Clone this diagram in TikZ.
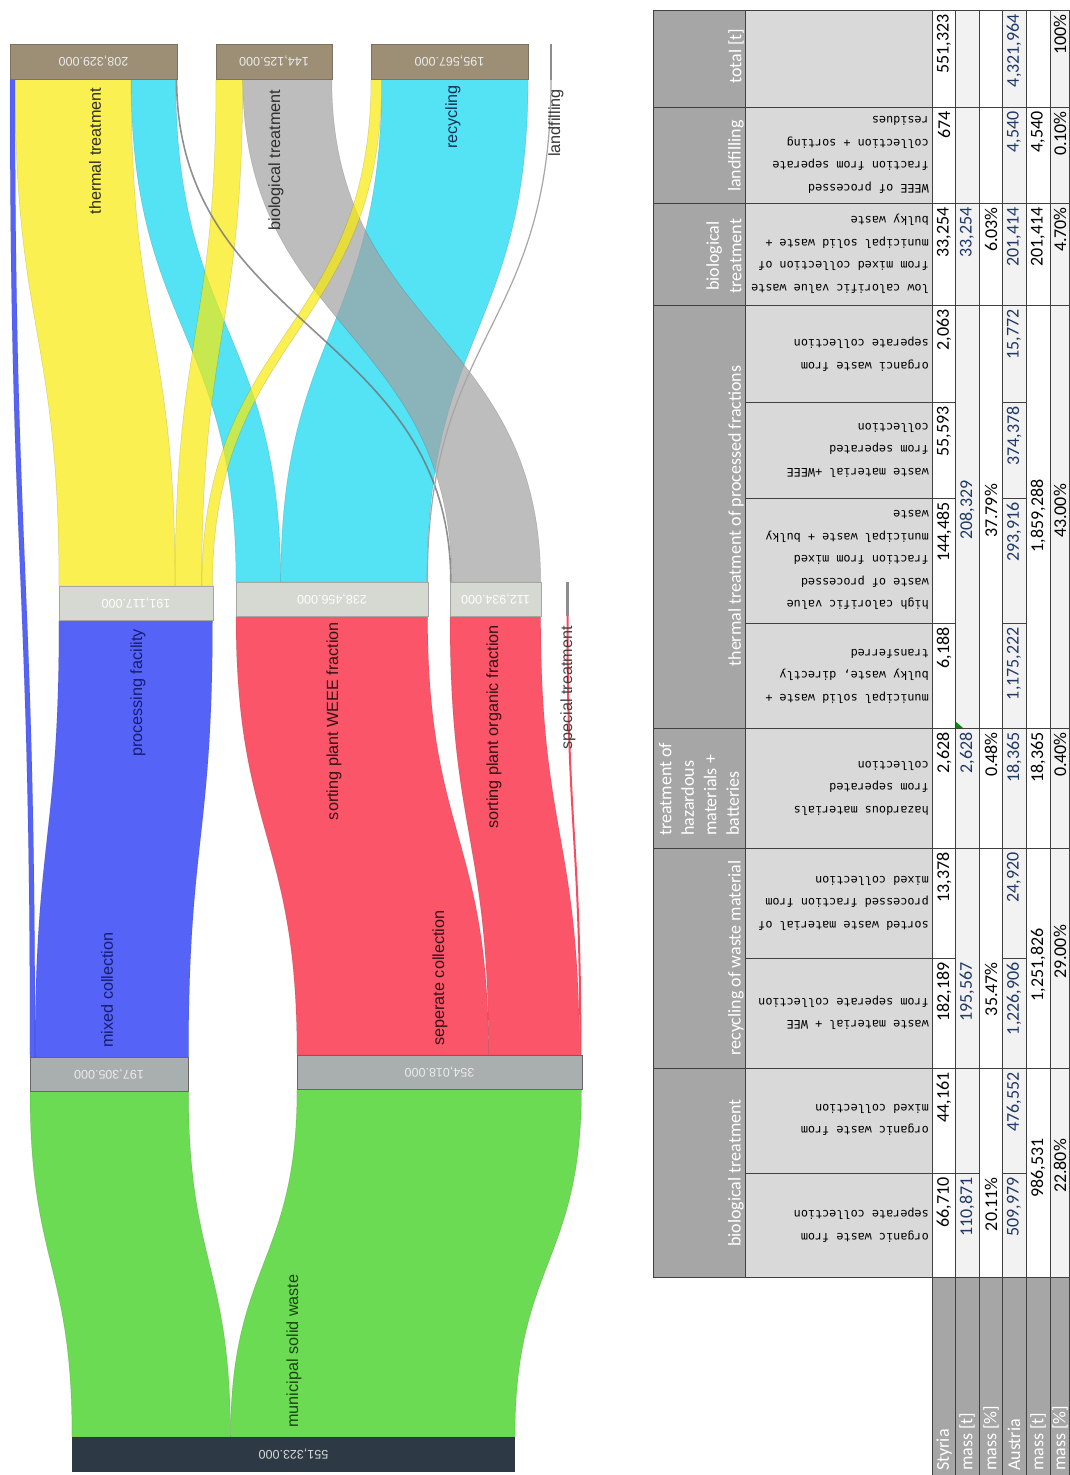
\documentclass[tikz,border=0pt]{standalone}
\usepackage{fontspec}
\setmainfont{Liberation Sans}
\newfontfamily\xlfont{Carlito}
\newfontfamily\cellmono{DejaVu Sans Mono}
\definecolor{cgreen}{RGB}{45,204,11}
\definecolor{cblue}{RGB}{15,34,244}
\definecolor{cred}{RGB}{248,14,42}
\definecolor{cyel}{RGB}{248,235,8}
\definecolor{ccyan}{RGB}{12,215,241}
\definecolor{cgray}{RGB}{161,161,161}
\definecolor{ctan}{RGB}{157,143,118}
\definecolor{cmid}{RGB}{213,217,209}
\definecolor{cbot}{RGB}{169,174,175}
\definecolor{croot}{RGB}{45,58,69}
\definecolor{hdrgray}{RGB}{166,166,166}
\definecolor{subgray}{RGB}{217,217,217}
\definecolor{altgray}{RGB}{242,242,242}
\definecolor{numblue}{RGB}{31,56,100}
\newcommand\sflow[7]{%
  \pgfmathsetmacro\flowym{(#4+#7)/2}%
  \filldraw[flowband,#1] (#2,#4) .. controls (#2,\flowym) and (#5,\flowym) .. (#5,#7) -- (#6,#7) .. controls (#6,\flowym) and (#3,\flowym) .. (#3,#4) -- cycle;}
\newcommand\sline[5]{%
  \pgfmathsetmacro\flowym{(#3+#5)/2}%
  \draw[#1] (#2,#3) .. controls (#2,\flowym) and (#4,\flowym) .. (#4,#5);}
\newcommand\dv[4][]{\node[dval,#1] (d#2x#3) at (#2,#3) {#4};}
\begin{document}
\begin{tikzpicture}[x=1pt,y=-1pt,
  flowband/.style={fill opacity=0.7, draw=black, draw opacity=0.15, line width=0.5},
  topbox/.style={fill=ctan, draw=ctan!80!black, line width=0.6, rotate=180, inner sep=0, minimum height=35, text=white!92!black, font=\fontsize{12.5}{14}\selectfont},
  midbox/.style={fill=cmid, draw=black!35, line width=0.6, rotate=180, inner sep=0, minimum height=34, text=white, font=\fontsize{12.5}{14}\selectfont},
  botbox/.style={fill=cbot, draw=black!60, line width=0.8, rotate=180, inner sep=0, minimum height=34, text=white!92!black, font=\fontsize{12.5}{14}\selectfont},
  rootbox/.style={fill=croot, rotate=180, inner sep=0, minimum height=35, text=white!85!black, font=\fontsize{12.5}{14}\selectfont},
  thinbox/.style={fill=black!45, inner sep=0},
  slabel/.style={rotate=90, inner sep=0, font=\fontsize{16.2}{19}\selectfont},
  dval/.style={rotate=90, anchor=east, inner sep=0, font=\xlfont\fontsize{18}{20}\selectfont},
  dvb/.style={text=numblue},
  shdr/.style={rotate=180, anchor=west, align=left, inner sep=0, font=\cellmono\fontsize{11.8}{22.5}\selectfont},
  chdr/.style={rotate=90, text=white, inner sep=0, font=\xlfont\fontsize{18}{22.5}\selectfont},
  rlab/.style={rotate=90, anchor=west, text=white, inner sep=0, font=\xlfont\fontsize{18}{20}\selectfont},
  tline/.style={draw=black!75, line width=0.8}
]
\useasboundingbox (0,0) rectangle (1070,1475);
\fill[white] (0,0) rectangle (1070,1475);

% ---------------- Sankey flows ----------------
\sflow{fill=cgreen}{72}{230.5}{1437}{30}{188.5}{1091}
\sflow{fill=cgreen}{230.5}{515}{1437}{297}{581.5}{1089}
\sflow{fill=cblue}{30}{35}{1057}{10}{15}{79}
\sflow{fill=cblue}{35}{188.5}{1057}{59}{212.5}{620}
\sflow{fill=cred}{297}{488.6}{1055}{236}{427.6}{616}
\sflow{fill=cred}{488.6}{579.4}{1055}{450}{540.7}{616}
\sflow{fill=ccyan}{280.7}{427.1}{582}{381.75}{528.1}{79}
\sflow{fill=cyel}{59}{175.1}{586}{15}{131.1}{79}
\sflow{fill=ccyan}{236}{280.7}{582}{131.1}{175.8}{79}
\sflow{fill=cgray}{451.7}{540.7}{582}{242.7}{331.8}{79}
\sflow{fill=cyel}{175.1}{201.8}{586}{216}{242.7}{79}
\sflow{fill=cyel}{201.8}{212.5}{586}{371}{381.75}{79}
\sline{draw=black!55, line width=1.6, draw opacity=0.8}{450.8}{582}{176.6}{79}
\sline{draw=black!35, line width=1.2}{427.3}{582}{551}{80}
\sline{draw=cred, line width=2, draw opacity=0.75}{580.4}{1055}{567.5}{616}

% ---------------- Sankey nodes ----------------
\node[topbox, minimum width=167] (thermal) at (93.5,61.5) {208,329.000};
\node[topbox, minimum width=116] (bio) at (274,61.5) {144,125.000};
\node[topbox, minimum width=157] (recyc) at (449.5,61.5) {195,567.000};
\node[thinbox, minimum width=1.6, minimum height=36] (landf) at (551,62) {};
\node[midbox, minimum width=154] (proc) at (136,603) {191,117.000};
\node[midbox, minimum width=192] (weee) at (332,599) {238,456.000};
\node[midbox, minimum width=91] (org) at (495.5,599) {112,934.000};
\node[thinbox, minimum width=2.5, minimum height=34] (spec) at (567.5,599) {};
\node[botbox, minimum width=158] (mixed) at (109,1074) {197,305.000};
\node[botbox, minimum width=285] (sep) at (439.5,1072) {354,018.000};
\node[rootbox, minimum width=443] (root) at (293.5,1454.5) {551,323.000};

% ---------------- Sankey labels ----------------
\node[slabel, text={rgb,255:red,45;green,45;blue,32}] (lthermal) at (95,151) {thermal treatment};
\node[slabel, text=black!82] (lbio) at (276,160) {biological treatment};
\node[slabel, text={rgb,255:red,16;green,48;blue,82}] (lrecyc) at (453,117) {recycling};
\node[slabel, text=black!78] (llandf) at (556,123) {landfilling};
\node[slabel, text={rgb,255:red,22;green,28;blue,112}] (lproc) at (138,693) {processing facility};
\node[slabel, text={rgb,255:red,52;green,16;blue,20}] (lweee) at (334,721) {sorting plant WEEE fraction};
\node[slabel, text={rgb,255:red,52;green,16;blue,20}] (lorg) at (494,727) {sorting plant organic fraction};
\node[slabel, text=black!75] (lspec) at (568,688) {special treatment};
\node[slabel, text={rgb,255:red,22;green,28;blue,112}] (lmixed) at (107,990) {mixed collection};
\node[slabel, text={rgb,255:red,52;green,16;blue,20}] (lsep) at (440,978) {seperate collection};
\node[slabel, text={rgb,255:red,26;green,68;blue,18}] (lmsw) at (294,1351) {municipal solid waste};

% ---------------- Table backgrounds ----------------
\fill[hdrgray] (653,10) rectangle (745,1277);
\fill[subgray] (745,10) rectangle (932,1277);
\fill[altgray] (955,10) rectangle (979,1277);
\fill[altgray] (1002,10) rectangle (1026,1277);
\fill[altgray] (1050,10) rectangle (1070,1277);
\fill[hdrgray] (932,1277) rectangle (1070,1475);
\fill[green!55!black] (955,721) -- (955,728) -- (963,728) -- cycle;

% ---------------- Table lines ----------------
\foreach \yy in {10,107,203,305,728,848,1068,1277}
  \draw[tline] (653,\yy) -- (1069.5,\yy);
\foreach \yy in {402,498,623,958,1173}
  \draw[tline] (745,\yy) -- (955,\yy) (1002,\yy) -- (1026,\yy);
\draw[tline] (955,1173) -- (979,1173);
\draw[tline] (653,10) -- (653,1277) (745,10) -- (745,1277);
\foreach \xx in {932,955,979,1002,1026,1050,1069.5}
  \draw[tline] (\xx,10) -- (\xx,1475);

% ---------------- Category headers ----------------
\node[chdr] (h1) at (736,56) {total [t]};
\node[chdr] (h2) at (736,156) {landfilling};
\node[chdr, align=center] (h3) at (724,256) {biological\\treatment};
\node[chdr] (h4) at (736,516) {thermal treatment of processed fractions};
\node[chdr, align=left, anchor=west] (h5) at (699,836) {treatment of\\hazardous\\materials +\\batteries};
\node[chdr] (h6) at (736,958) {recycling of waste material};
\node[chdr] (h7) at (736,1173) {biological treatment};

% ---------------- Sub headers ----------------
\node[shdr] (s1) at (929,155) {WEEE of processed\\fraction from seperate\\collection + sorting\\residues};
\node[shdr] (s2) at (929,254) {low calorific value waste\\from mixed collection of\\municipal solid waste +\\bulky waste};
\node[shdr] (s3) at (929,354) {organci waste from\\seperate collection};
\node[shdr] (s4) at (929,450) {waste material +WEEE\\from seperated\\collection};
\node[shdr] (s5) at (929,560) {high calorific value\\waste of processed\\fraction from mixed\\municipal waste + bulky\\waste};
\node[shdr] (s6) at (929,676) {municipal solid waste +\\bulky waste, directly\\transferred};
\node[shdr] (s7) at (929,788) {hazardous materials\\from seperated\\collection};
\node[shdr] (s8) at (929,903) {sorted waste material of\\processed fraction from\\mixed collection};
\node[shdr] (s9) at (929,1013) {waste material + WEE\\from seperate collection};
\node[shdr] (s10) at (929,1120) {organic waste from\\mixed collection};
\node[shdr] (s11) at (929,1225) {organic waste from\\seperate collection};

% ---------------- Data: Styria mass per fraction ----------------
\dv{944}{14}{551,323}
\dv{944}{111}{674}
\dv{944}{207}{33,254}
\dv{944}{309}{2,063}
\dv{944}{406}{55,593}
\dv{944}{502}{144,485}
\dv{944}{627}{6,188}
\dv{944}{732}{2,628}
\dv{944}{852}{13,378}
\dv{944}{962}{182,189}
\dv{944}{1072}{44,161}
\dv{944}{1177}{66,710}
% Styria mass [t]
\dv[dvb]{967}{207}{33,254}
\dv[dvb,anchor=center]{967}{510}{208,329}
\dv[dvb]{967}{732}{2,628}
\dv[dvb]{967}{962}{195,567}
\dv[dvb]{967}{1177}{110,871}
% Styria mass [%]
\dv{991}{207}{6.03\%}
\dv[anchor=center]{991}{511}{37.79\%}
\dv{991}{732}{0.48\%}
\dv{991}{962}{35.47\%}
\dv{991}{1177}{20.11\%}
% Austria
\dv[dvb]{1014}{14}{4,321,964}
\dv[dvb]{1014}{111}{4,540}
\dv[dvb]{1014}{207}{201,414}
\dv[dvb]{1014}{309}{15,772}
\dv[dvb]{1014}{406}{374,378}
\dv[dvb]{1014}{502}{293,916}
\dv[dvb]{1014}{627}{1,175,222}
\dv[dvb]{1014}{732}{18,365}
\dv[dvb]{1014}{852}{24,920}
\dv[dvb]{1014}{962}{1,226,906}
\dv[dvb]{1014}{1072}{476,552}
\dv[dvb]{1014}{1177}{509,979}
% Austria mass [t]
\dv{1038}{111}{4,540}
\dv{1038}{207}{201,414}
\dv[anchor=center]{1038}{516}{1,859,288}
\dv{1038}{732}{18,365}
\dv[anchor=center]{1038}{965}{1,251,826}
\dv[anchor=center]{1038}{1168}{986,531}
% Austria mass [%]
\dv{1060}{14}{100\%}
\dv{1060}{111}{0.10\%}
\dv{1060}{207}{4.70\%}
\dv[anchor=center]{1060}{511}{43.00\%}
\dv{1060}{732}{0.40\%}
\dv[anchor=center]{1060}{952}{29.00\%}
\dv[anchor=center]{1060}{1166}{22.80\%}

% ---------------- Row labels ----------------
\node[rlab] (r1) at (944,1471) {Styria};
\node[rlab] (r2) at (967,1471) {mass [t]};
\node[rlab] (r3) at (991,1471) {mass [\%]};
\node[rlab] (r4) at (1014,1471) {Austria};
\node[rlab] (r5) at (1038,1471) {mass [t]};
\node[rlab] (r6) at (1060,1471) {mass [\%]};
\end{tikzpicture}
\end{document}
